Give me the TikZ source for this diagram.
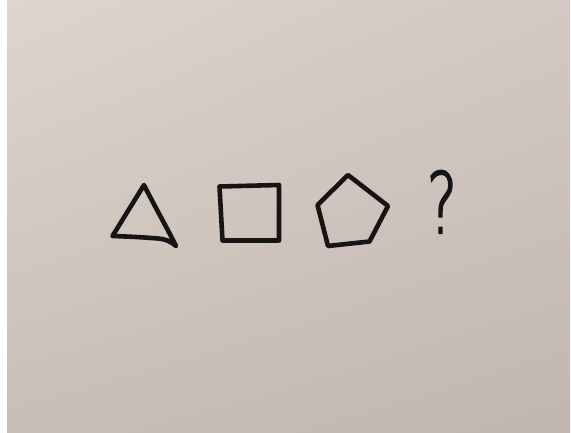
\documentclass[tikz,border=0pt]{standalone}
\usepackage{fontspec}
\usetikzlibrary{shadings}
\IfFontExistsTF{DejaVu Sans ExtraLight}{\newfontfamily\qfont{DejaVu Sans ExtraLight}}{\newfontfamily\qfont{DejaVu Sans}}
\definecolor{ink}{RGB}{22,20,20}
\definecolor{paperUL}{RGB}{222,213,205}
\definecolor{paperUR}{RGB}{211,200,195}
\definecolor{paperLL}{RGB}{199,190,181}
\definecolor{paperLR}{RGB}{193,183,176}
\newcommand{\thickq}[1]{\special{pdf:literal direct 2 Tr 2.2 w}#1\special{pdf:literal direct 0 Tr}}
\tikzset{
  marker/.style={draw=ink, line width=4.6pt, line join=round, line cap=round},
  qmark/.style={inner sep=0pt, anchor=base, text=ink, font=\qfont\fontsize{84}{84}\selectfont}
}
\begin{document}
\begin{tikzpicture}[x=1pt,y=-1pt]
\useasboundingbox (0,0) rectangle (571,433);
\fill[white] (0,0) rectangle (571,433);
\shade[shading=bilinear interpolation, upper left=paperUL, upper right=paperUR, lower left=paperLL, lower right=paperLR] (7,1) rectangle (570,433);
% triangle
\draw[marker] (144,185) .. controls (154,205) and (166,226) .. (176,246)
  .. controls (170,241) and (165,239) .. (158,238.5)
  .. controls (140,237) and (126,236.5) .. (112.5,236) -- cycle;
% square
\draw[marker] (219.5,186.5) -- (279,185) -- (279,240.5) -- (222.5,240.5) -- cycle;
% pentagon
\draw[marker] (348,175) -- (388,206) -- (369.5,241.5) -- (328,246) -- (317.5,205) -- cycle;
% question mark
\node[qmark] (q) at (442,233) {\scalebox{0.68}[1]{\thickq{?}}};
\end{tikzpicture}
\end{document}
